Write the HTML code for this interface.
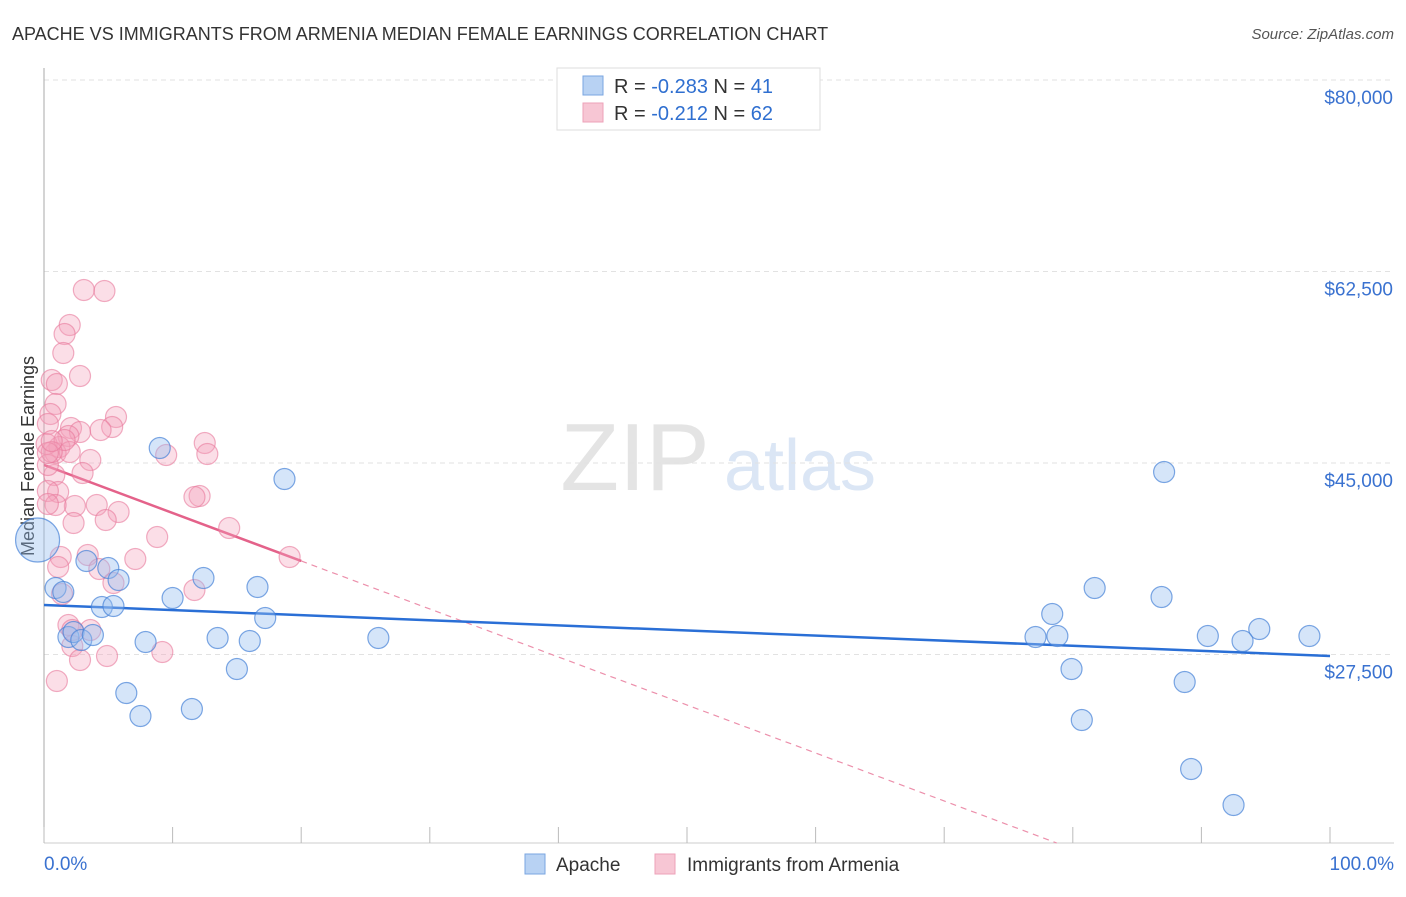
<!DOCTYPE html>
<html><head><meta charset="utf-8"><style>
body{margin:0;background:#fff;font-family:"Liberation Sans",sans-serif;}
svg text{font-family:"Liberation Sans",sans-serif;}
</style></head><body>
<svg id="chart" width="1406" height="892" xmlns="http://www.w3.org/2000/svg">
<text x="12" y="40" font-size="18" fill="#333">APACHE VS IMMIGRANTS FROM ARMENIA MEDIAN FEMALE EARNINGS CORRELATION CHART</text>
<text x="1394" y="39" font-size="15" fill="#555" text-anchor="end" font-style="italic">Source: ZipAtlas.com</text>
<text transform="translate(34,456) rotate(-90)" font-size="18" fill="#333" text-anchor="middle">Median Female Earnings</text>
<g><text x="635" y="490" font-size="96" fill="#e4e4e4" font-family="Liberation Serif" text-anchor="middle">ZIP</text><text x="800" y="490" font-size="72" fill="#dbe6f5" text-anchor="middle">atlas</text></g>
<g id="grid"></g><g id="axes"></g><g id="trends"></g><g id="points"></g>
<g>
<rect x="557" y="68" width="263" height="62" fill="#fff" stroke="#ddd"/>
<rect x="583" y="76" width="20" height="19" fill="#b8d2f3" stroke="#7aa6e0"/>
<text x="614" y="93" font-size="20" fill="#333">R = <tspan fill="#2f6fd0">-0.283</tspan>   N = <tspan fill="#2f6fd0"> 41</tspan></text>
<rect x="583" y="103" width="20" height="19" fill="#f7c6d4" stroke="#eda2b8"/>
<text x="614" y="120" font-size="20" fill="#333">R =  <tspan fill="#2f6fd0">-0.212</tspan>   N = <tspan fill="#2f6fd0">62</tspan></text>
</g>
<g>
<rect x="525" y="854" width="20" height="20" fill="#b8d2f3" stroke="#7aa6e0"/>
<text x="556" y="871" font-size="19" fill="#333">Apache</text>
<rect x="655" y="854" width="20" height="20" fill="#f7c6d4" stroke="#eda2b8"/>
<text x="687" y="871" font-size="19" fill="#333">Immigrants from Armenia</text>
</g>
</svg>
<script>
const yTicks=[80000,62500,45000,27500];
const yTickLabels=["$80,000","$62,500","$45,000","$27,500"];
const xTickLabels=["0.0%","100.0%"];
const apacheX=[-0.5,9.0,18.7,87.1,3.3,5.0,5.8,12.4,0.9,1.5,10.0,16.6,4.5,5.4,17.2,81.7,86.9,78.4,94.5,1.9,2.3,2.9,3.8,7.9,13.5,16.0,26.0,77.1,78.8,90.5,93.2,98.4,15.0,79.9,88.7,6.4,7.5,11.5,80.7,89.2,92.5];
const apacheY=[37965,46372,43540,44180,36046,35406,34310,34493,33578,33213,32665,33670,31843,31934,30836,33578,32756,31203,29832,29101,29558,28827,29284,28644,29010,28736,29010,29101,29192,29192,28736,29192,26176,26176,24989,23983,21882,22522,21517,17039,13749];
const armeniaX=[3.1,4.7,2.0,1.6,1.5,2.8,0.6,1.0,0.9,0.5,5.6,5.3,4.4,2.1,2.8,1.9,0.3,1.2,0.9,2.0,3.6,3.0,0.8,0.3,0.2,1.1,0.3,2.4,0.9,4.1,5.8,2.3,4.8,14.4,12.1,11.7,12.5,12.7,9.5,8.8,7.1,3.4,1.3,1.1,4.3,5.4,1.4,11.7,19.1,1.9,3.6,2.2,2.8,4.9,9.2,1.0,1.6,0.3,0.6,2.2,0.3,0.6];
const armeniaY=[60810,60719,57612,56790,55053,52952,52586,52221,50393,49479,49205,48291,48017,48199,47834,47469,48565,46463,45915,46006,45275,44087,43905,44819,46737,42351,42443,41072,41164,41164,40524,39519,39793,39062,41986,41895,46829,45823,45732,38239,36229,36594,36411,35497,35315,34036,33030,33396,36411,30198,29741,28279,27000,27365,27731,25080,47103,41255,46006,29741,45915,47012];
const apacheTrend=[32026,27365];
const armeniaTrend=[44819,36046];
const armeniaTrendEndX=20;
const NS="http://www.w3.org/2000/svg";
const X0=44,X1=1330,YB=843;
const xs=v=>X0+(X1-X0)*v/100;
const ys=v=>80+(80000-v)*191.5/17500;
function mk(tag,attrs,parent){const e=document.createElementNS(NS,tag);for(const k in attrs)e.setAttribute(k,attrs[k]);parent.appendChild(e);return e;}
const grid=document.getElementById('grid'),axes=document.getElementById('axes');
yTicks.forEach((t,i)=>{
 const l=mk('line',{x1:X0,x2:1394,y1:ys(t),y2:ys(t),stroke:'#e2e2e2','stroke-dasharray':'5,4'},grid);
 
 
 const tx=mk('text',{x:1393,y:ys(t)+24,'font-size':19,fill:'#3a72d0','text-anchor':'end'},axes);
 tx.textContent=yTickLabels[i];
 
 
});
const ax=mk('line',{x1:X0,x2:X0,y1:68,y2:YB,stroke:'#aaa'},axes);


const bx=mk('line',{x1:X0,x2:1394,y1:YB,y2:YB,stroke:'#ccc'},axes);


for(let i=0;i<=10;i++){
 const t=mk('line',{x1:xs(i*10),x2:xs(i*10),y1:YB-16,y2:YB,stroke:'#bbb'},axes);
 
 
}
const xl0=mk('text',{x:44,y:870,'font-size':19,fill:'#3a72d0'},axes);xl0.textContent=xTickLabels[0];


const xl1=mk('text',{x:1394,y:870,'font-size':19,fill:'#3a72d0','text-anchor':'end'},axes);xl1.textContent=xTickLabels[1];


const pts=document.getElementById('points');
armeniaX.forEach((x,i)=>{
 const c=mk('circle',{cx:xs(x),cy:ys(armeniaY[i]),r:10.5,fill:'rgba(244,160,186,0.35)',stroke:'rgba(232,120,155,0.6)','stroke-width':1.2},pts);
 
 
});
apacheX.forEach((x,i)=>{
 const c=mk('circle',{cx:xs(x),cy:ys(apacheY[i]),r:i===0?22:10.5,fill:'rgba(150,190,240,0.4)',stroke:'rgba(70,130,215,0.7)','stroke-width':1.2},pts);
 
 
});
const tr=document.getElementById('trends');
const slope=(armeniaTrend[1]-armeniaTrend[0])/armeniaTrendEndX;
const minV=80000-(YB-80)*17500/191.5;
const endX=(minV-armeniaTrend[0])/slope;
const d=mk('line',{x1:xs(armeniaTrendEndX),y1:ys(armeniaTrend[1]),x2:xs(endX),y2:ys(minV),stroke:'#ec8fab','stroke-width':1.2,'stroke-dasharray':'6,5'},tr);


const p=mk('line',{x1:xs(0),y1:ys(armeniaTrend[0]),x2:xs(armeniaTrendEndX),y2:ys(armeniaTrend[1]),stroke:'#e4628a','stroke-width':2.5},tr);


const b=mk('line',{x1:xs(0),y1:ys(apacheTrend[0]),x2:xs(100),y2:ys(apacheTrend[1]),stroke:'#2a6fd6','stroke-width':2.5},tr);


</script>
</body></html>
